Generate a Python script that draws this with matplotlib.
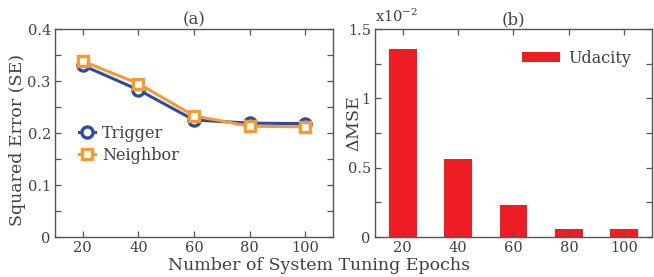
import numpy as np
import matplotlib
matplotlib.use('Agg')
import matplotlib.pyplot as plt

epochs = [20, 40, 60, 80, 100]
trigger_se = [0.330, 0.283, 0.225, 0.219, 0.218]
neighbor_se = [0.338, 0.295, 0.233, 0.213, 0.212]
udacity_dmse = [1.357, 0.562, 0.228, 0.055, 0.057]  # x10^-2

plt.rcParams['font.family'] = ['DejaVu Serif']
plt.rcParams['mathtext.fontset'] = 'dejavuserif'
txt = '#404040'
grey = '#555555'
plt.rcParams['text.color'] = txt
plt.rcParams['axes.labelcolor'] = txt
plt.rcParams['xtick.color'] = grey
plt.rcParams['ytick.color'] = grey
plt.rcParams['xtick.labelcolor'] = txt
plt.rcParams['ytick.labelcolor'] = txt

fig = plt.figure(figsize=(6.54, 2.77), dpi=100)
ax1 = fig.add_axes([0.0841, 0.1444, 0.4251, 0.7509])
ax2 = fig.add_axes([0.5734, 0.1444, 0.4235, 0.7509])

blue = '#2F4BA0'
orange = '#F79A32'
red = '#EE1D23'

ax1.plot(epochs, trigger_se, color=blue, lw=2.2, marker='o', ms=8,
         mfc='white', mew=2.4, label='Trigger')
ax1.plot(epochs, neighbor_se, color=orange, lw=2.2, marker='s', ms=7.5,
         mfc='white', mew=2.4, label='Neighbor')
ax1.set_xlim(10, 110)
ax1.set_ylim(0, 0.4)
ax1.set_xticks(epochs)
ax1.set_yticks(np.arange(0, 0.41, 0.05))
ax1.set_yticklabels(['0', '', '0.1', '', '0.2', '', '0.3', '', '0.4'])
ax1.set_ylabel('Squared Error (SE)', fontsize=12.5)
ax1.yaxis.set_label_coords(-0.105, 0.466)
ax1.set_title('(a)', fontsize=12, pad=3, color=txt)
ax1.legend(loc='upper left', bbox_to_anchor=(0.065, 0.57), frameon=False,
           fontsize=11.5, handlelength=1.0, handletextpad=0.4,
           labelspacing=0.3, borderaxespad=0.0)

ax2.bar(epochs, udacity_dmse, width=10, color=red, label='Udacity')
ax2.set_xlim(10, 110)
ax2.set_ylim(0, 1.5)
ax2.set_xticks(epochs)
ax2.set_yticks(np.arange(0, 1.51, 0.25))
ax2.set_yticklabels(['0', '', '0.5', '', '1', '', '1.5'])
ax2.set_ylabel(r'$\Delta$MSE', fontsize=12.5)
ax2.yaxis.set_label_coords(-0.045, 0.54)
ax2.set_title('(b)', fontsize=12, pad=3, color=txt)
ax2.text(0.0, 1.02, r'x10$^{-2}$', transform=ax2.transAxes, fontsize=10.5,
         ha='left', va='bottom')
ax2.legend(loc='upper right', frameon=False, fontsize=11.5,
           handlelength=2.4, handleheight=0.55, handletextpad=0.5,
           borderaxespad=0.9)

for ax in (ax1, ax2):
    ax.tick_params(direction='in', top=True, right=True, length=4,
                   width=0.9, labelsize=10.5, pad=3)
    for s in ax.spines.values():
        s.set_color(grey)
        s.set_linewidth(1.0)

fig.text(0.488, 0.01, 'Number of System Tuning Epochs', ha='center',
         va='bottom', fontsize=12.5)

fig.savefig('out.png', dpi=100)
